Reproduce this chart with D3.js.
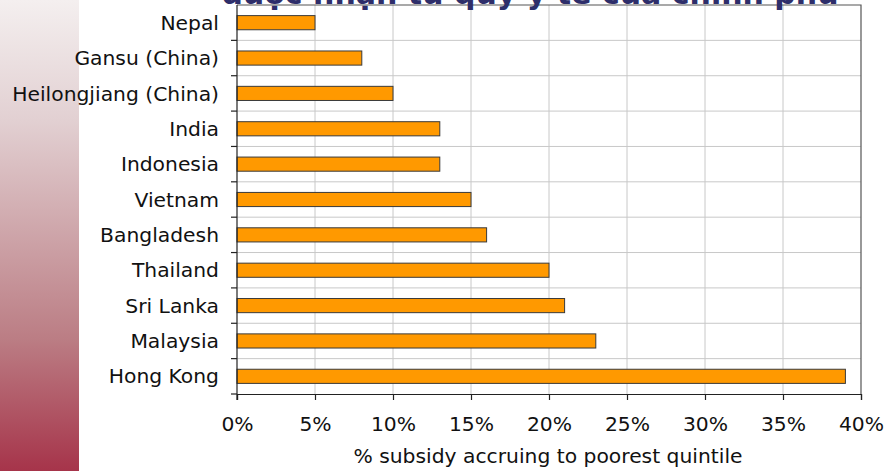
<!DOCTYPE html>
<html>
<head>
<meta charset="utf-8">
<script src="https://cdn.jsdelivr.net/npm/d3@7"></script>
<style>
  body { margin: 0; background: #fff; }
  svg { display: block; }
</style>
</head>
<body>
<div id="chart"></div>
<script>
// data
var countries = ["Nepal", "Gansu (China)", "Heilongjiang (China)", "India", "Indonesia",
  "Vietnam", "Bangladesh", "Thailand", "Sri Lanka", "Malaysia", "Hong Kong"];
var subsidyShare = [5, 8, 10, 13, 13, 15, 16, 20, 21, 23, 39];
var xTicks = [0, 5, 10, 15, 20, 25, 30, 35, 40];
var titleText = "được nhận từ quỹ y tế của chính phủ";
var xTitle = "% subsidy accruing to poorest quintile";

var data = countries.map(function (c, i) { return { name: c, value: subsidyShare[i] }; });

// set the dimensions and margins of the graph
var W = 888, H = 471;
var margin = { top: 5, right: 27, bottom: 77, left: 237 },
    width = W - margin.left - margin.right,
    height = H - margin.top - margin.bottom;
var fontFam = "DejaVu Sans, Verdana, sans-serif",
    fontSize = 20.3;

var svg = d3.select("#chart")
  .append("svg")
  .attr("width", W)
  .attr("height", H);

// left decorative gradient strip
var grad = svg.append("defs").append("linearGradient")
  .attr("id", "strip").attr("x1", 0).attr("y1", 0).attr("x2", 0).attr("y2", 1);
grad.append("stop").attr("offset", 0).attr("stop-color", "#f4efef");
grad.append("stop").attr("offset", 0.255).attr("stop-color", "#e2d0d2");
grad.append("stop").attr("offset", 0.72).attr("stop-color", "#bb7d84");
grad.append("stop").attr("offset", 1).attr("stop-color", "#a6344a");
svg.append("rect")
  .attr("x", 0).attr("y", 0).attr("width", 79).attr("height", H)
  .attr("fill", "url(#strip)");

var g = svg.append("g")
  .attr("transform", "translate(" + margin.left + "," + margin.top + ")");

// scales
var x = d3.scaleLinear().domain([0, 40]).range([0, width]);
var y = d3.scaleBand().domain(countries).range([0, height]).paddingInner(0).paddingOuter(0);

// grid lines
g.append("g")
  .selectAll("line.vg")
  .data(xTicks.slice(1, -1))
  .enter().append("line")
  .attr("x1", function (d) { return x(d); }).attr("x2", function (d) { return x(d); })
  .attr("y1", 0).attr("y2", height)
  .attr("stroke", "#c8c8c8").attr("stroke-width", 1);
g.append("g")
  .selectAll("line.hg")
  .data(countries.slice(1))
  .enter().append("line")
  .attr("x1", 0).attr("x2", width)
  .attr("y1", function (d) { return y(d); }).attr("y2", function (d) { return y(d); })
  .attr("stroke", "#c8c8c8").attr("stroke-width", 1);

// plot border (top + right)
g.append("path")
  .attr("d", "M0,0H" + width + "V" + height)
  .attr("fill", "none").attr("stroke", "#555").attr("stroke-width", 1.2);

// bars
var barH = y.bandwidth() * 0.4;
g.append("g")
  .selectAll("rect")
  .data(data)
  .enter().append("rect")
  .attr("x", x(0))
  .attr("y", function (d) { return y(d.name) + (y.bandwidth() - barH) / 2; })
  .attr("width", function (d) { return x(d.value) - x(0); })
  .attr("height", barH)
  .attr("fill", "#ff9900")
  .attr("stroke", "#3a3a3a")
  .attr("stroke-width", 1);

// x axis
var xAxis = g.append("g")
  .attr("transform", "translate(0," + height + ")")
  .call(d3.axisBottom(x).tickValues(xTicks).tickSize(6).tickPadding(17)
    .tickFormat(function (d) { return d + "%"; }));
xAxis.selectAll("text")
  .attr("font-family", fontFam)
  .attr("font-size", fontSize).attr("fill", "#111");
xAxis.select(".domain").attr("stroke", "#222").attr("stroke-width", 1.2);
xAxis.selectAll(".tick line").attr("stroke", "#222").attr("stroke-width", 1.2);

// y axis: ticks on band boundaries, labels at band centres
var yAxis = g.append("g");
yAxis.append("line")
  .attr("x1", 0).attr("x2", 0).attr("y1", 0).attr("y2", height + 6)
  .attr("stroke", "#222").attr("stroke-width", 1.2);
yAxis.selectAll("line.tk")
  .data(countries.slice(1).concat([null]))
  .enter().append("line")
  .attr("x1", -6).attr("x2", 0)
  .attr("y1", function (d) { return d ? y(d) : height; })
  .attr("y2", function (d) { return d ? y(d) : height; })
  .attr("stroke", "#222").attr("stroke-width", 1.2);
yAxis.selectAll("text")
  .data(countries)
  .enter().append("text")
  .attr("x", -18)
  .attr("y", function (d) { return y(d) + y.bandwidth() / 2; })
  .attr("dy", "0.35em")
  .attr("text-anchor", "end")
  .attr("font-family", fontFam)
  .attr("font-size", fontSize).attr("fill", "#111")
  .text(function (d) { return d; });

// axis title
svg.append("text")
  .attr("x", 548).attr("y", 463)
  .attr("text-anchor", "middle")
  .attr("font-family", fontFam)
  .attr("font-size", fontSize).attr("fill", "#111")
  .text(xTitle);

// slide title, mostly cut off at the top edge as in the source slide
svg.append("text")
  .attr("x", 530).attr("y", 4)
  .attr("text-anchor", "middle")
  .attr("font-family", fontFam)
  .attr("font-weight", "bold")
  .attr("font-size", 30).attr("fill", "#2e2e6a")
  .text(titleText);
</script>
</body>
</html>
